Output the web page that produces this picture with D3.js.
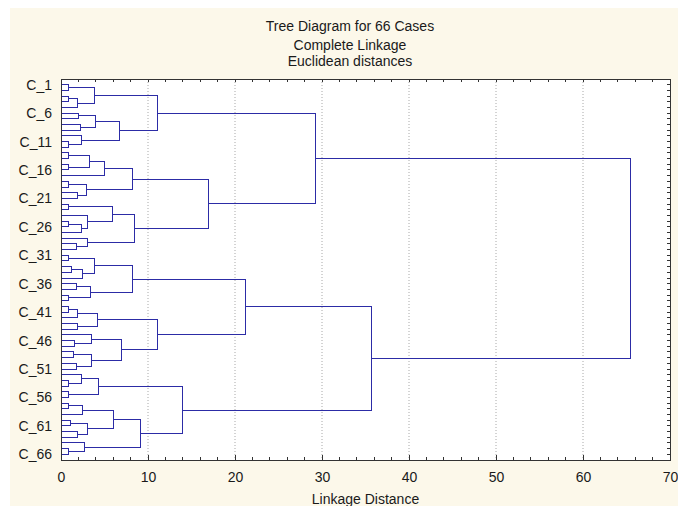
<!DOCTYPE html>
<html>
<head>
<meta charset="utf-8">
<script src="https://cdn.jsdelivr.net/npm/d3@7"></script>
<style>
  body { margin: 0; background: #fff; }
  svg { display: block; font-family: "Liberation Sans", Arial, sans-serif; }
</style>
</head>
<body>
<svg id="chart" width="678" height="506"></svg>
<script>
// leaves in display order (top to bottom)
const leaves = ["C_1","C_2","C_3","C_4","C_5","C_6","C_7","C_8","C_9","C_10",
  "C_11","C_12","C_13","C_14","C_15","C_16","C_17","C_18","C_19","C_20",
  "C_21","C_22","C_23","C_24","C_25","C_26","C_27","C_28","C_29","C_30",
  "C_31","C_32","C_33","C_34","C_35","C_36","C_37","C_38","C_39","C_40",
  "C_41","C_42","C_43","C_44","C_45","C_46","C_47","C_48","C_49","C_50",
  "C_51","C_52","C_53","C_54","C_55","C_56","C_57","C_58","C_59","C_60",
  "C_61","C_62","C_63","C_64","C_65","C_66"]

// labels shown on the left axis
const leafLabels = ["C_1","C_6","C_11","C_16","C_21","C_26","C_31","C_36","C_41","C_46","C_51","C_56","C_61","C_66"]

// merges: [cluster id, first member, second member, linkage distance]
const merges = [
  ["m1","C_1","C_2",0.9], ["m2","C_3","C_4",0.9], ["m3","m2","C_5",1.9], ["m4","m1","m3",3.9],
  ["m5","C_6","C_7",2.05], ["m6","C_8","C_9",2.2], ["m7","m5","m6",4.0],
  ["m8","C_11","C_12",0.85], ["m9","C_10","m8",2.3], ["m10","m7","m9",6.7], ["m11","m4","m10",11.1],
  ["m12","C_13","C_14",0.85], ["m13","C_15","C_16",0.85], ["m14","m12","m13",3.25], ["m15","m14","C_17",5.05],
  ["m16","C_18","C_19",0.85], ["m17","C_20","C_21",1.9], ["m18","m16","m17",2.9], ["m19","m15","m18",8.2],
  ["m20","C_22","C_23",0.85], ["m21","C_25","C_26",0.85], ["m22","m21","C_27",2.4], ["m23","C_24","m22",3.0],
  ["m24","m20","m23",5.9], ["m25","C_29","C_30",1.8], ["m26","C_28","m25",3.0], ["m27","m24","m26",8.5],
  ["m28","m19","m27",17.0], ["m29","m11","m28",29.2],
  ["m30","C_31","C_32",0.85], ["m31","C_33","C_34",1.15], ["m32","m31","C_35",2.45], ["m33","m30","m32",3.9],
  ["m34","C_36","C_37",1.8], ["m35","C_38","C_39",0.9], ["m36","m34","m35",3.35], ["m37","m33","m36",8.2],
  ["m38","C_40","C_41",0.9], ["m39","m38","C_42",1.9], ["m40","C_43","C_44",1.9], ["m41","m39","m40",4.2],
  ["m42","C_46","C_47",1.55], ["m43","C_45","m42",3.45], ["m44","C_48","C_49",1.4], ["m45","C_50","C_51",1.8],
  ["m46","m44","m45",3.5], ["m47","m43","m46",7.0], ["m48","m41","m47",11.1], ["m49","m37","m48",21.2],
  ["m50","C_53","C_54",0.85], ["m51","C_52","m50",2.4], ["m52","C_55","C_56",0.85], ["m53","m51","m52",4.3],
  ["m54","C_57","C_58",0.85], ["m55","m54","C_59",2.45], ["m56","C_60","C_61",1.1], ["m57","C_62","C_63",1.9],
  ["m58","m56","m57",3.0], ["m59","m55","m58",6.0], ["m60","C_65","C_66",0.85], ["m61","C_64","m60",2.7],
  ["m62","m59","m61",9.1], ["m63","m53","m62",14.0], ["m64","m49","m63",35.7], ["m65","m29","m64",65.5]
]

const xTicks = [0,10,20,30,40,50,60,70]
const gridTicks = [10,20,30,40,50,60]
const minorTicks = d3.range(0, 71, 2)

const titleLines = ["Tree Diagram for 66 Cases", "Complete Linkage", "Euclidean distances"]

const svg = d3.select('#chart')
const W = +svg.attr('width'), H = +svg.attr('height')
const plotLeft = 61, plotRight = 670, plotTop = 79, plotBottom = 460
const lineColor = '#2c2ca6'
const textColor = '#1a1a1a'
const fontSize = '14px'

// sfondo crema e area bianca
svg.append('rect').attr('x', 10).attr('y', 8).attr('width', W - 10).attr('height', H - 8).attr('fill', '#fcf8ea')
svg.append('rect').attr('x', plotLeft).attr('y', plotTop).attr('width', plotRight - plotLeft).attr('height', plotBottom - plotTop).attr('fill', '#fff')

const x = d3.scaleLinear().domain([0, 70]).range([plotLeft, plotRight])
const y = d3.scalePoint().domain(leaves).range([plotTop, plotBottom]).padding(1)

// griglia
svg.append('g').selectAll('line').data(gridTicks).enter().append('line')
  .attr('x1', d => x(d)).attr('x2', d => x(d))
  .attr('y1', plotTop).attr('y2', plotBottom)
  .style('stroke', '#a8a8a8').style('stroke-dasharray', '1,2')

// posizioni dei nodi
const pos = {}
leaves.forEach(l => { pos[l] = { y: y(l), h: 0 } })
merges.forEach(([id, a, b, h]) => {
  pos[id] = { y: (pos[a].y + pos[b].y) / 2, h: h }
})

const g = svg.append('g').attr('fill', 'none').attr('stroke', lineColor).attr('stroke-width', 1)
g.selectAll('path').data(merges).enter().append('path')
  .attr('d', ([id, a, b, h]) => {
    const pa = pos[a], pb = pos[b]
    return `M${x(pa.h)},${pa.y}H${x(h)}V${pb.y}H${x(pb.h)}`
  })
  .attr('shape-rendering', 'crispEdges')

// cornice
svg.append('rect').attr('x', plotLeft).attr('y', plotTop).attr('width', plotRight - plotLeft).attr('height', plotBottom - plotTop)
  .attr('fill', 'none').attr('stroke', '#333').attr('shape-rendering', 'crispEdges')

// tacche minori sopra e sotto
svg.append('g').selectAll('line').data(minorTicks).enter().append('line')
  .attr('x1', d => x(d)).attr('x2', d => x(d)).attr('y1', plotTop).attr('y2', plotTop + 3)
  .style('stroke', '#333').attr('shape-rendering', 'crispEdges')
svg.append('g').selectAll('line').data(minorTicks).enter().append('line')
  .attr('x1', d => x(d)).attr('x2', d => x(d)).attr('y1', plotBottom).attr('y2', plotBottom - 3)
  .style('stroke', '#333').attr('shape-rendering', 'crispEdges')

// tacche a destra
svg.append('g').selectAll('line').data(leaves).enter().append('line')
  .attr('x1', plotRight).attr('x2', plotRight - 3).attr('y1', d => y(d)).attr('y2', d => y(d))
  .style('stroke', '#333').attr('shape-rendering', 'crispEdges')

// asse x
const xAxis = d3.axisBottom(x).tickValues(xTicks).tickSize(-5).tickPadding(12).tickFormat(d3.format('d'))
const xg = svg.append('g').attr('transform', `translate(0, ${plotBottom})`).call(xAxis)
xg.select('path.domain').remove()
xg.selectAll('.tick line').style('stroke', '#333')
xg.selectAll('.tick text').style('font-size', fontSize).style('fill', textColor).style('font-family', '"Liberation Sans", Arial, sans-serif')

// asse y
const yAxis = d3.axisLeft(y).tickValues(leafLabels).tickSize(0).tickPadding(9)
const yg = svg.append('g').attr('transform', `translate(${plotLeft}, 0)`).call(yAxis)
yg.select('path.domain').remove()
yg.selectAll('.tick text').style('font-size', fontSize).style('fill', textColor).style('font-family', '"Liberation Sans", Arial, sans-serif')

// titoli
const titleY = [31, 50, 66]
svg.append('g').selectAll('text').data(titleLines).enter().append('text')
  .attr('x', 350).attr('y', (d, i) => titleY[i])
  .attr('text-anchor', 'middle').style('font-size', fontSize).style('fill', textColor)
  .text(d => d)

svg.append('text').attr('x', (plotLeft + plotRight) / 2).attr('y', 504)
  .attr('text-anchor', 'middle').style('font-size', fontSize).style('fill', textColor)
  .text('Linkage Distance')
</script>
</body>
</html>
